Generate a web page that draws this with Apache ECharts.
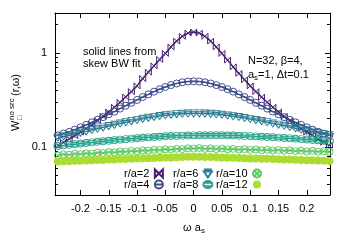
<!DOCTYPE html>
<html>
<head>
<meta charset="utf-8">
<script src="https://cdn.jsdelivr.net/npm/echarts@6/dist/echarts.min.js"></script>
<style>html,body{margin:0;padding:0;background:#fff;}#c{width:350px;height:250px;}</style>
</head>
<body>
<div id="c"></div>
<script>
const omega = [-0.24,-0.23,-0.22,-0.21,-0.2,-0.19,-0.18,-0.17,-0.16,-0.15,-0.14,-0.13,-0.12,-0.11,-0.1,-0.09,-0.08,-0.07,-0.06,-0.05,-0.04,-0.03,-0.02,-0.01,0,0.01,0.02,0.03,0.04,0.05,0.06,0.07,0.08,0.09,0.1,0.11,0.12,0.13,0.14,0.15,0.16,0.17,0.18,0.19,0.2,0.21,0.22,0.23,0.24];
const w_r2 = [0.104,0.112,0.122,0.132,0.144,0.157,0.173,0.191,0.212,0.236,0.265,0.299,0.340,0.388,0.447,0.535,0.625,0.730,0.855,0.991,1.161,1.340,1.507,1.629,1.674,1.629,1.507,1.340,1.161,0.991,0.840,0.712,0.606,0.519,0.447,0.388,0.340,0.299,0.265,0.236,0.212,0.191,0.173,0.157,0.144,0.132,0.122,0.112,0.104];
const w_r4 = [0.133,0.139,0.145,0.153,0.162,0.172,0.183,0.195,0.208,0.223,0.238,0.256,0.275,0.295,0.317,0.340,0.363,0.388,0.412,0.435,0.456,0.474,0.488,0.497,0.500,0.497,0.488,0.474,0.456,0.435,0.412,0.388,0.363,0.340,0.317,0.295,0.275,0.256,0.238,0.223,0.208,0.195,0.183,0.172,0.162,0.153,0.145,0.139,0.134];
const w_r6 = [0.1263,0.1293,0.1334,0.1384,0.1425,0.1466,0.1517,0.1567,0.1618,0.1669,0.1721,0.1782,0.1833,0.1885,0.1942,0.1995,0.2045,0.2092,0.2138,0.2177,0.2210,0.2238,0.2260,0.2273,0.2280,0.2279,0.2270,0.2254,0.2232,0.2203,0.2168,0.2128,0.2085,0.2039,0.1990,0.1935,0.1887,0.1838,0.1779,0.1731,0.1682,0.1633,0.1583,0.1534,0.1495,0.1456,0.1406,0.1367,0.1337];
const w_r8 = [0.1024,0.1040,0.1055,0.1071,0.1087,0.1103,0.1119,0.1135,0.1151,0.1167,0.1182,0.1198,0.1213,0.1227,0.1241,0.1254,0.1266,0.1278,0.1288,0.1299,0.1307,0.1314,0.1321,0.1326,0.1330,0.1332,0.1335,0.1334,0.1333,0.1331,0.1328,0.1324,0.1318,0.1312,0.1305,0.1297,0.1288,0.1278,0.1268,0.1257,0.1247,0.1235,0.1225,0.1213,0.1201,0.1189,0.1177,0.1166,0.1154];
const w_r10 = [0.0812,0.0835,0.0826,0.0848,0.0838,0.0856,0.0849,0.0871,0.0862,0.0884,0.0875,0.0897,0.0888,0.0908,0.0899,0.0921,0.0912,0.0934,0.0925,0.0946,0.0937,0.0958,0.0950,0.0969,0.0962,0.0975,0.0956,0.0968,0.0950,0.0962,0.0943,0.0955,0.0936,0.0949,0.0930,0.0942,0.0923,0.0935,0.0917,0.0929,0.0910,0.0922,0.0903,0.0915,0.0897,0.0909,0.0890,0.0902,0.0885];
const w_r12 = [0.0700,0.0706,0.0707,0.0713,0.0714,0.0720,0.0722,0.0728,0.0729,0.0735,0.0737,0.0743,0.0744,0.0750,0.0752,0.0757,0.0759,0.0765,0.0766,0.0773,0.0774,0.0780,0.0782,0.0788,0.0789,0.0788,0.0782,0.0781,0.0776,0.0775,0.0769,0.0768,0.0763,0.0761,0.0756,0.0755,0.0749,0.0748,0.0743,0.0742,0.0736,0.0735,0.0730,0.0728,0.0723,0.0722,0.0716,0.0715,0.0711];
const seriesNames = ['r/a=2','r/a=4','r/a=6','r/a=8','r/a=10','r/a=12'];
const xTicks = [-0.2,-0.15,-0.1,-0.05,0,0.05,0.1,0.15,0.2];
const yMajor = [0.1, 1];
const yMinor = [0.04,0.05,0.06,0.07,0.08,0.09,0.2,0.3,0.4,0.5,0.6,0.7,0.8,0.9,2];

const allW = [w_r2,w_r4,w_r6,w_r8,w_r10,w_r12];
const colors = ['#46206f','#3f4f8c','#2f7d94','#27a38b','#5fca66','#aadc32'];
const symbols = [
  'path://M0,0L0,10L10,0L10,10Z',
  'path://M0,5A5,5,0,1,1,10,5A5,5,0,1,1,0,5ZM0,5L10,5',
  'path://M0,0L10,0M0,2.5L10,2.5L5,10Z',
  'path://M0,5A5,4,0,1,1,10,5A5,4,0,1,1,0,5ZM0,3L10,3M0,7L10,7',
  'path://M0,5A5,5,0,1,1,10,5A5,5,0,1,1,0,5ZM1.5,1.5L8.5,8.5M8.5,1.5L1.5,8.5',
  'circle'
];
const symSizes = [[6,6],[7,7],[8,7],[8,7],[7,7],[8,8]];
const FONT = 'Liberation Sans, Arial, sans-serif';
const L = v => Math.log10(v);
const YMIN = -1.511, YMAX = 0.426, XMIN = -0.245, XMAX = 0.241;

const series = allW.map((vals, k) => ({
  name: seriesNames[k],
  type: 'line',
  xAxisIndex: 0, yAxisIndex: 0,
  data: omega.map((w, i) => [w, L(vals[i])]),
  symbol: symbols[k],
  symbolSize: symSizes[k],
  showAllSymbol: true,
  lineStyle: {color: colors[k], width: 1.5},
  itemStyle: k === 5 ? {color: colors[k], borderWidth: 0} : {color: 'rgba(0,0,0,0)', borderColor: colors[k], borderWidth: 1},
  color: colors[k],
  emphasis: {disabled: true},
  animation: false
}));

const yFmt = v => { const p = Math.pow(10, v); return p >= 1 ? String(Math.round(p)) : String(+p.toFixed(1)); };
const baseX = {type:'value', min: XMIN, max: XMAX, splitLine:{show:false}, axisLine:{show:true, onZero:false, lineStyle:{color:'#000', width:1}}};
const baseY = {type:'value', min: YMIN, max: YMAX, splitLine:{show:false}, axisLine:{show:true, onZero:false, lineStyle:{color:'#000', width:1}}};

function legendCfg(left, idxs) {
  return {
    orient: 'vertical', left: left, top: 168, padding: 0, itemGap: 0,
    align: 'right', itemWidth: 9, itemHeight: 8,
    selectedMode: false,
    textStyle: {fontSize: 11, color: '#000', fontFamily: FONT, lineHeight: 10},
    data: idxs.map(k => ({name: seriesNames[k], icon: symbols[k]}))
  };
}

const option = {
  animation: false,
  grid: [
    {left: 55, right: 20, top: 13, bottom: 55},
    {left: 55, right: 20, top: 13, bottom: 55}
  ],
  xAxis: [
    Object.assign({}, baseX, {gridIndex:0, position:'bottom',
      axisTick:{inside:true, length:5, customValues: xTicks, lineStyle:{color:'#000'}},
      axisLabel:{customValues: xTicks, margin: 8, color:'#000', fontSize: 11, fontFamily: FONT, formatter: v => String(v)}}),
    Object.assign({}, baseX, {gridIndex:0, position:'top',
      axisTick:{inside:true, length:5, customValues: xTicks, lineStyle:{color:'#000'}},
      axisLabel:{show:false}}),
    Object.assign({}, baseX, {gridIndex:1, position:'bottom', axisLine:{show:false, onZero:false}, axisTick:{show:false}, axisLabel:{show:false}})
  ],
  yAxis: [
    Object.assign({}, baseY, {gridIndex:0, position:'left',
      axisTick:{inside:true, length:5, customValues: yMajor.map(L), lineStyle:{color:'#000'}},
      axisLabel:{customValues: yMajor.map(L), margin: 8, color:'#000', fontSize: 11, fontFamily: FONT, formatter: yFmt}}),
    Object.assign({}, baseY, {gridIndex:0, position:'right',
      axisTick:{inside:true, length:5, customValues: yMajor.map(L), lineStyle:{color:'#000'}},
      axisLabel:{show:false}}),
    Object.assign({}, baseY, {gridIndex:1, position:'left', axisLine:{show:false, onZero:false},
      axisTick:{inside:true, length:3, customValues: yMinor.map(L), lineStyle:{color:'#000'}},
      axisLabel:{show:false}}),
    Object.assign({}, baseY, {gridIndex:1, position:'right', axisLine:{show:false, onZero:false},
      axisTick:{inside:true, length:3, customValues: yMinor.map(L), lineStyle:{color:'#000'}},
      axisLabel:{show:false}})
  ],
  legend: [legendCfg(124, [0,1]), legendCfg(173, [2,3]), legendCfg(216, [4,5])],
  series: series,
  graphic: [
    {type:'text', x: 83, y: 51.5, style:{text:'solid lines from', fill:'#000', font:'11px ' + FONT, verticalAlign:'middle'}},
    {type:'text', x: 83, y: 63.5, style:{text:'skew BW fit', fill:'#000', font:'11px ' + FONT, verticalAlign:'middle'}},
    {type:'text', x: 248, y: 61, style:{text:'N=32, β=4,', fill:'#000', font:'11px ' + FONT, verticalAlign:'middle'}},
    {type:'text', x: 248, y: 75, style:{text:'{b|a}{s|s}{b|=1, Δt=0.1}', verticalAlign:'middle',
      rich:{b:{fontSize:11, fontFamily:FONT, fill:'#000', lineHeight:14, verticalAlign:'middle'}, s:{fontSize:8, fontFamily:FONT, fill:'#000', lineHeight:8, verticalAlign:'bottom'}}}},
    {type:'text', x: 194, y: 228, style:{text:'{b|ω a}{s|s}', align:'center', verticalAlign:'middle',
      rich:{b:{fontSize:11, fontFamily:FONT, fill:'#000', lineHeight:14, verticalAlign:'middle'}, s:{fontSize:8, fontFamily:FONT, fill:'#000', lineHeight:8, verticalAlign:'bottom'}}}},
    {type:'group', x: 16, y: 102, rotation: Math.PI/2, children: [
      {type:'text', x: -29, y: 0, style:{text:'W', fill:'#000', font:'11px ' + FONT, verticalAlign:'middle'}},
      {type:'text', x: -18, y: 4, style:{text:'□', fill:'#000', font:'7px ' + FONT, verticalAlign:'middle'}},
      {type:'text', x: -18, y: -4, style:{text:'no src', fill:'#000', font:'8px ' + FONT, verticalAlign:'middle'}},
      {type:'text', x: 6, y: 0, style:{text:'(r,ω)', fill:'#000', font:'11px ' + FONT, verticalAlign:'middle'}}
    ]}
  ]
};
const chart = echarts.init(document.getElementById('c'), null, {renderer:'canvas'});
chart.setOption(option);
</script>
</body>
</html>
